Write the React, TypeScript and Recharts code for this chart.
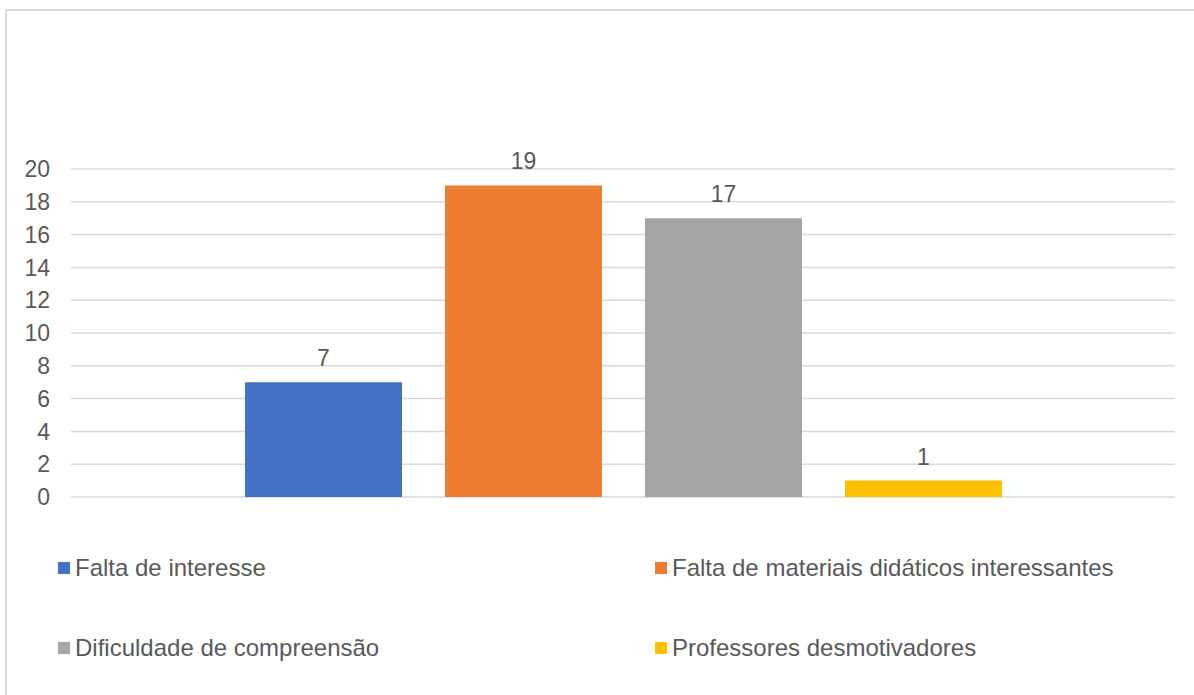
import React from 'react';
import { BarChart, Bar, XAxis, YAxis, CartesianGrid, Legend, LabelList } from 'recharts';

// series (each a single bar)
const seriesNames = [
  'Falta de interesse',
  'Falta de materiais didáticos interessantes',
  'Dificuldade de compreensão',
  'Professores desmotivadores',
];
const seriesKeys = ['interesse', 'materiais', 'compreensao', 'professores'];
const seriesValues = [7, 19, 17, 1];
const seriesColors = ['#4472C4', '#ED7D31', '#A5A5A5', '#FFC000'];
const yTicks = [0, 2, 4, 6, 8, 10, 12, 14, 16, 18, 20];

const row: Record<string, number | string> = { name: '' };
seriesKeys.forEach((k, i) => {
  row[k] = seriesValues[i];
});
const data = [row];

const FONT = '"Liberation Sans", Arial, sans-serif';
const TEXT = '#595959';

const renderLegend = (props: any) => {
  // keep the series order, legend sorts by name otherwise
  const items = [...(props.payload || [])].sort(
    (a: any, b: any) => seriesNames.indexOf(a.value) - seriesNames.indexOf(b.value)
  );
  return (
    <div
      style={{
        display: 'grid',
        gridTemplateColumns: '597px 1fr',
        rowGap: 53,
        paddingLeft: 58,
        fontFamily: FONT,
        fontSize: 24,
        color: TEXT,
      }}
    >
      {items.map((it: any) => (
        <div key={it.value} style={{ display: 'flex', alignItems: 'center', height: 27 }}>
          <span style={{ width: 12, height: 12, background: it.color, marginRight: 5, flexShrink: 0 }} />
          <span style={{ whiteSpace: 'nowrap' }}>{it.value}</span>
        </div>
      ))}
    </div>
  );
};

export default function App() {
  return (
    <div style={{ position: 'absolute', left: 0, top: 0, width: 1194, height: 695, background: '#fff', overflow: 'hidden' }}>
      <div
        style={{
          position: 'absolute',
          left: 5,
          top: 9,
          width: 1200,
          height: 700,
          border: '2px solid #d9d9d9',
          boxSizing: 'border-box',
        }}
      />
      <div style={{ position: 'absolute', left: 0, top: 0 }}>
        <BarChart
          width={1194}
          height={695}
          data={data}
          margin={{ top: 169, right: 19, bottom: 198, left: 0 }}
          barSize={157}
          barGap={43}
        >
          <CartesianGrid vertical={false} stroke="#d9d9d9" strokeWidth={1.5} />
          <XAxis dataKey="name" hide />
          <YAxis
            width={71}
            domain={[0, 20]}
            ticks={yTicks}
            axisLine={false}
            tickLine={false}
            tickSize={0}
            tickMargin={21}
            interval={0}
            tick={{ fill: TEXT, fontSize: 23, fontFamily: FONT }}
          />
          <Legend
            layout="horizontal"
            verticalAlign="middle"
            align="center"
            content={renderLegend}
            wrapperStyle={{ left: 0, top: 554, width: 1194 }}
          />
          {seriesKeys.map((k, i) => (
            <Bar key={k} dataKey={k} name={seriesNames[i]} fill={seriesColors[i]} isAnimationActive={false}>
              <LabelList
                dataKey={k}
                position="top"
                offset={16}
                style={{ fill: TEXT, fontSize: 23, fontFamily: FONT }}
              />
            </Bar>
          ))}
        </BarChart>
      </div>
    </div>
  );
}
